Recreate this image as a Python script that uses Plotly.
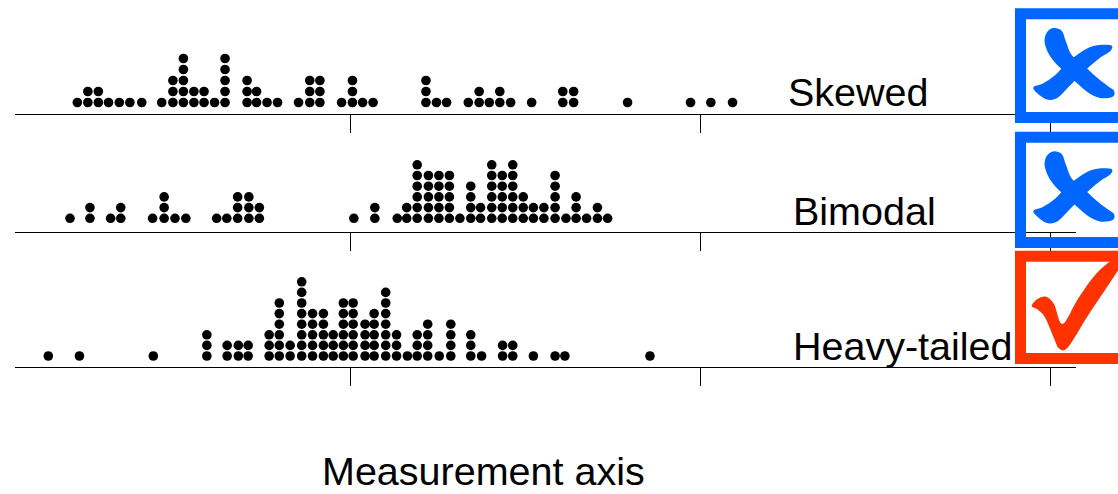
import plotly.graph_objects as go

W, H = 1118, 494

# ---- data: stack positions (measurement units) and number of dots in each stack ----
skewed_x = [2.21, 2.51, 2.81, 3.10, 3.41, 3.71, 4.05, 4.62, 4.94, 5.24, 5.54, 5.83, 6.13, 6.43,
            7.06, 7.33, 7.63, 7.93, 8.53, 8.85, 9.14, 9.76, 10.07, 10.36, 10.66, 12.17, 12.47,
            12.76, 13.38, 13.69, 13.98, 14.28, 14.59, 15.19, 16.08, 16.39, 17.93, 19.73, 20.31, 20.93]
skewed_n = [1, 2, 2, 1, 1, 1, 1, 1, 3, 5, 2, 2, 1, 5,
            3, 2, 1, 1, 1, 3, 3, 1, 3, 1, 1, 3, 1,
            1, 1, 2, 1, 2, 1, 1, 2, 2, 1, 1, 1, 1]

bimodal_x = [2.00, 2.57, 3.16, 3.45, 4.36, 4.69, 5.00, 5.31, 6.19, 6.48, 6.79, 7.11, 7.41,
             10.11, 10.71, 11.35, 11.62, 11.92, 12.24, 12.54, 12.84, 13.14, 13.45, 13.73, 14.05,
             14.35, 14.65, 14.95, 15.24, 15.54, 15.86, 16.17, 16.46, 16.76, 17.07, 17.36]
bimodal_n = [1, 2, 1, 2, 1, 3, 1, 1, 1, 1, 3, 3, 2,
             1, 2, 1, 2, 6, 5, 5, 5, 1, 4, 2, 6,
             5, 6, 3, 2, 2, 5, 1, 3, 1, 2, 1]

heavy_x = [1.38, 2.27, 4.38, 5.91, 6.49, 6.81, 7.09, 7.69, 7.98, 8.29, 8.62, 8.93, 9.24, 9.52,
           9.81, 10.09, 10.43, 10.69, 11.02, 11.33, 11.64, 11.92, 12.22, 12.55, 12.88, 13.45,
           13.76, 14.36, 14.65, 15.24, 15.86, 16.14, 18.57]
heavy_n = [1, 1, 1, 3, 2, 2, 2, 3, 6, 2, 8, 5, 5, 3,
           6, 6, 4, 5, 7, 3, 1, 3, 4, 1, 4, 3,
           1, 2, 2, 1, 1, 1, 1]

row_labels = ["Skewed", "Bimodal", "Heavy-tailed"]
row_verdicts = ["bad", "bad", "good"]
tick_vals = [10, 20, 30]
axis_title = "Measurement axis"

# ---- geometry (pixels) ----
baselines = [113.5, 231.7, 366.7]
first_offsets = [11.0, 13.4, 10.7]
level_px = [11.0, 10.7, 10.6]
dom_h = 105.0
x_left_px, x_right_px, px_per_unit = 15.0, 1076.0, 35.0
label_pos = [(786, 92), (791, 211), (791, 346)]
box_tops = [8.3, 131.7, 250.7]
box_bots = [123.0, 248.0, 364.0]

BLUE = "#0066ff"
RED = "#ff3300"
FONT = "Liberation Sans, Arial, sans-serif"

# icon outlines (pixel outline points, drawn as smooth closed curves)
CROSS_A = [(160, 84), (185, 92), (198, 125), (215, 165), (250, 195), (290, 232), (322, 257),
           (342, 272), (338, 290), (300, 294), (262, 276), (228, 247), (182, 205), (150, 168),
           (134, 128), (140, 98)]
CROSS_B = [(332, 136), (332, 152), (302, 172), (270, 198), (238, 228), (205, 262), (175, 292),
           (148, 300), (122, 288), (100, 263), (130, 250), (165, 226), (198, 192), (238, 160),
           (280, 138)]
CHECK = [(95, 918), (112, 897), (138, 890), (162, 912), (188, 972), (235, 895), (290, 820),
         (345, 775), (372, 778), (335, 840), (265, 945), (205, 1040), (178, 1046), (160, 1010),
         (135, 952), (112, 928)]


def px(xp):
    return xp / W


def py(yp):
    return 1 - yp / H


def smooth_path(pts, dy=0.0):
    P = [(1000 + a / 3.0, b / 3.0 + dy) for a, b in pts]
    n = len(P)
    s = "M %.5f,%.5f" % (px(P[0][0]), py(P[0][1]))
    for i in range(n):
        p0, p1, p2, p3 = P[i - 1], P[i], P[(i + 1) % n], P[(i + 2) % n]
        c1 = (p1[0] + (p2[0] - p0[0]) / 6, p1[1] + (p2[1] - p0[1]) / 6)
        c2 = (p2[0] - (p3[0] - p1[0]) / 6, p2[1] - (p3[1] - p1[1]) / 6)
        s += " C %.5f,%.5f %.5f,%.5f %.5f,%.5f" % (px(c1[0]), py(c1[1]), px(c2[0]), py(c2[1]),
                                                   px(p2[0]), py(p2[1]))
    return s + " Z"


fig = go.Figure()
rows = [(skewed_x, skewed_n), (bimodal_x, bimodal_n), (heavy_x, heavy_n)]
for i, (xs, ns) in enumerate(rows):
    dx, dy = [], []
    for pos, n in zip(xs, ns):
        for k in range(1, n + 1):
            dx.append(pos)
            dy.append(k)
    suf = "" if i == 0 else str(i + 1)
    fig.add_trace(go.Scatter(x=dx, y=dy, mode="markers", xaxis="x" + suf, yaxis="y" + suf,
                             marker=dict(size=9.6, color="black", line=dict(width=0)),
                             cliponaxis=False, hoverinfo="x", showlegend=False))
    B = baselines[i]
    p = level_px[i]
    y0 = 1 - first_offsets[i] / p
    y1 = y0 + dom_h / p
    fig.layout["xaxis" + suf] = dict(
        domain=[px(x_left_px), px(x_right_px)],
        range=[x_left_px / px_per_unit, x_right_px / px_per_unit],
        anchor="y" + suf, showline=True, linecolor="black", linewidth=1.4,
        ticks="outside", ticklen=18, tickwidth=1.4, tickcolor="black",
        tickvals=tick_vals, showticklabels=False, showgrid=False, zeroline=False,
        fixedrange=True)
    fig.layout["yaxis" + suf] = dict(
        domain=[py(B), py(B - dom_h)], range=[y0, y1], anchor="x" + suf,
        visible=False, fixedrange=True)

shapes = []
annotations = []
bw = 11.0
for i in range(3):
    col = BLUE if row_verdicts[i] == "bad" else RED
    shapes.append(dict(type="rect", xref="paper", yref="paper", layer="above",
                       x0=px(1015 + bw / 2), x1=px(1140),
                       y0=py(box_tops[i] + bw / 2), y1=py(box_bots[i] - bw / 2),
                       line=dict(color=col, width=bw),
                       fillcolor="white" if i != 1 else "rgba(0,0,0,0)"))
    if row_verdicts[i] == "bad":
        off = box_tops[i] - box_tops[0]
        for outline in (CROSS_A, CROSS_B):
            shapes.append(dict(type="path", xref="paper", yref="paper", layer="above",
                               path=smooth_path(outline, off), fillcolor=col,
                               line=dict(width=0)))
    else:
        off = box_tops[i] - box_tops[2]
        shapes.append(dict(type="path", xref="paper", yref="paper", layer="above",
                           path=smooth_path(CHECK, off), fillcolor=col, line=dict(width=0)))
    lx, ly = label_pos[i]
    annotations.append(dict(text=row_labels[i], xref="paper", yref="paper", x=px(lx), y=py(ly),
                            xanchor="left", yanchor="middle", showarrow=False,
                            font=dict(family=FONT, size=39.5, color="black")))

annotations.append(dict(text=axis_title, xref="paper", yref="paper", x=px(483.5), y=py(471),
                        xanchor="center", yanchor="middle", showarrow=False,
                        font=dict(family=FONT, size=39.5, color="black")))

fig.update_layout(width=W, height=H, margin=dict(l=0, r=0, t=0, b=0),
                  paper_bgcolor="white", plot_bgcolor="white",
                  shapes=shapes, annotations=annotations, showlegend=False)

fig.write_html("out.html", config={"displayModeBar": False})
